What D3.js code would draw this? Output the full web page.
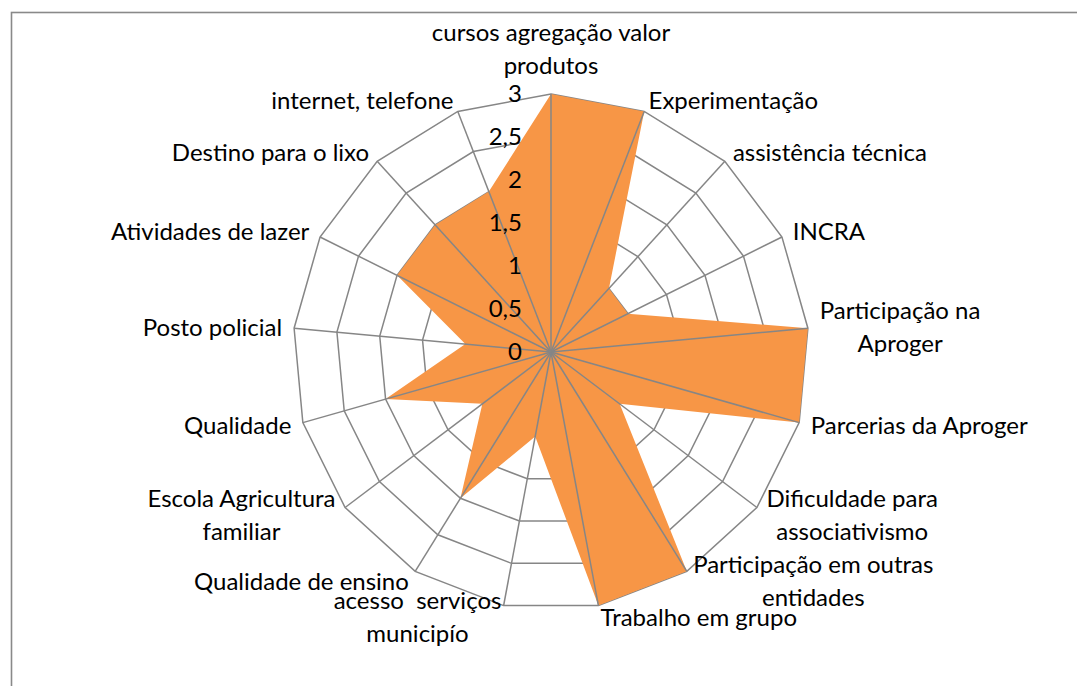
<!DOCTYPE html>
<html>
<head>
<meta charset="utf-8">
<script src="https://cdn.jsdelivr.net/npm/d3@7"></script>
<style>
  body { margin: 0; background: #fff; }
  text { font-family: Lato, "Open Sans", sans-serif; fill: #000; white-space: pre; }
</style>
</head>
<body>
<svg id="chart"></svg>
<script>
var categories = [
  "cursos agregação valor\nprodutos",
  "Experimentação",
  "assistência técnica",
  "INCRA",
  "Participação na\nAproger",
  "Parcerias da Aproger",
  "Dificuldade para\nassociativismo",
  "Participação em outras\nentidades",
  "Trabalho em grupo",
  "acesso  serviços\nmunicipío",
  "Qualidade de ensino",
  "Escola Agricultura\nfamiliar",
  "Qualidade",
  "Posto policial",
  "Atividades de lazer",
  "Destino para o lixo",
  "internet, telefone"
];
var values = [3, 3, 1, 1, 3, 3, 1, 3, 3, 1, 2, 1, 2, 1, 2, 2, 2];
var ticks = [0, 0.5, 1, 1.5, 2, 2.5, 3];
var tickLabels = ["0", "0,5", "1", "1,5", "2", "2,5", "3"];

var width = 1077;
var height = 686;
var cx = 551, cy = 352;
var radius = 258;
var fontSize = 24;
var lineH = 33;

var svg = d3.select("#chart")
            .attr("width", width)
            .attr("height", height);

// frame
svg.append("rect")
   .attr("x", 11.5)
   .attr("y", 12.5)
   .attr("width", width)
   .attr("height", height)
   .attr("fill", "white")
   .attr("stroke", "#898989")
   .attr("stroke-width", 1.6);

var r = d3.scaleLinear().domain([0, 3]).range([0, radius]);
var angle = d3.scaleLinear().domain([0, categories.length]).range([0, 2 * Math.PI]);

var g = svg.append("g").attr("transform", "translate(" + cx + "," + cy + ")");

var ring = d3.lineRadial()
             .angle(function(d, i) { return angle(i); })
             .curve(d3.curveLinearClosed);

// rings
g.selectAll(".ring")
 .data(ticks.slice(1))
 .enter()
 .append("path")
 .attr("class", "ring")
 .attr("d", function(t)
 {
   return ring.radius(function() { return r(t); })(categories);
 })
 .attr("fill", "none")
 .attr("stroke", "#868686")
 .attr("stroke-width", 1.5);

// series
g.append("path")
 .datum(values)
 .attr("d", d3.lineRadial()
              .angle(function(d, i) { return angle(i); })
              .radius(function(d) { return r(d); })
              .curve(d3.curveLinearClosed))
 .attr("fill", "#F79646");

// spokes
g.selectAll(".spoke")
 .data(categories)
 .enter()
 .append("line")
 .attr("class", "spoke")
 .attr("x1", 0)
 .attr("y1", 0)
 .attr("x2", function(d, i) { return r(3) * Math.sin(angle(i)); })
 .attr("y2", function(d, i) { return -r(3) * Math.cos(angle(i)); })
 .attr("stroke", "#868686")
 .attr("stroke-width", 1.5);

// value axis labels
g.selectAll(".tick")
 .data(ticks)
 .enter()
 .append("text")
 .attr("class", "tick")
 .attr("x", -29)
 .attr("y", function(d) { return -r(d); })
 .attr("dy", "0.35em")
 .attr("text-anchor", "end")
 .style("font-size", fontSize + "px")
 .text(function(d, i) { return tickLabels[i]; });

// category labels
var labels = g.selectAll(".cat")
              .data(categories)
              .enter()
              .append("g")
              .attr("class", "cat");

labels.each(function(d, i)
{
  var a = angle(i);
  var s = Math.sin(a), c = Math.cos(a);
  var px = (radius + 12) * s;
  var py = -(radius + 12) * c;
  var lines = d.split("\n");
  var el = d3.select(this);
  var texts = el.selectAll("text")
                .data(lines)
                .enter()
                .append("text")
                .style("font-size", fontSize + "px")
                .attr("text-anchor", "middle")
                .attr("dy", "0.35em")
                .text(function(t) { return t; });
  var w = 0;
  texts.each(function() { w = Math.max(w, this.getComputedTextLength()); });
  var bx;
  if (Math.abs(s) < 0.05) bx = px;
  else if (s > 0) bx = px + w / 2;
  else bx = px - w / 2;
  var blockH = lines.length * lineH;
  var by = Math.abs(s) < 0.05 ? py - blockH / 2 : py;
  texts.attr("x", bx)
       .attr("y", function(t, j) { return by - blockH / 2 + lineH / 2 + j * lineH; });
});
</script>
</body>
</html>
